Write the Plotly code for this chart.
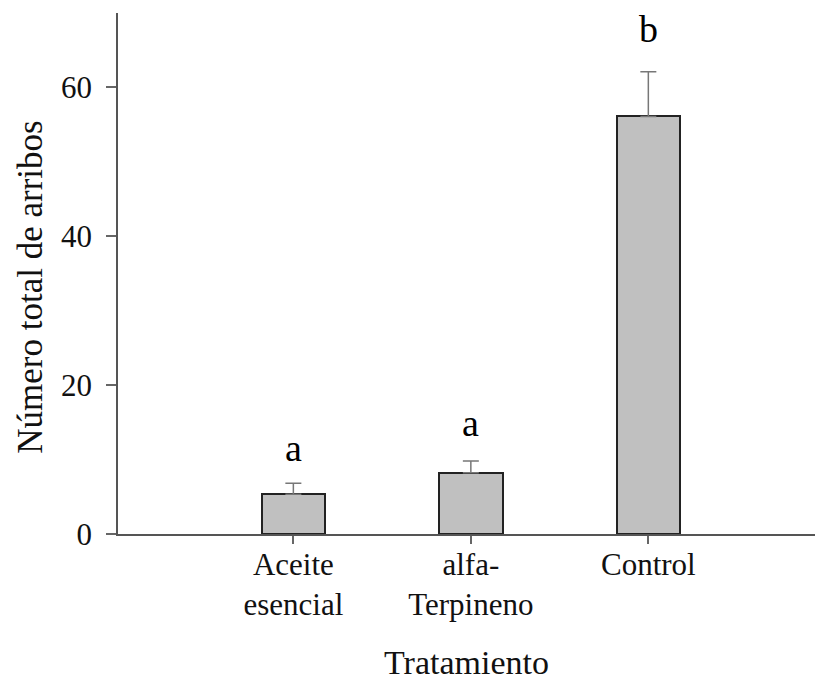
import plotly.graph_objects as go

# Tratamientos y su número total de arribos (media ± error estándar)
categorias = ["Aceite<br>esencial", "alfa-<br>Terpineno", "Control"]
posiciones = [1, 2, 3]
medias = [5.33, 8.23, 56.1]
errores = [1.5, 1.57, 6.0]
letras = ["a", "a", "b"]
altura_letras = [11.5, 14.9, 67.9]

fuente = "Liberation Serif, Times New Roman, serif"

fig = go.Figure()
fig.add_trace(go.Bar(
    x=posiciones,
    y=medias,
    width=0.358,
    marker=dict(color="#c0c0c0", line=dict(color="#222222", width=2)),
    error_y=dict(type="data", array=errores, arrayminus=[0, 0, 0],
                 symmetric=False, color="#777777", thickness=1.5, width=8),
    showlegend=False,
))

# Letras de significancia sobre cada barra
for xp, yl, txt in zip(posiciones, altura_letras, letras):
    fig.add_annotation(x=xp, y=yl, text=txt, showarrow=False,
                       font=dict(family=fuente, size=38, color="#000000"),
                       xanchor="center", yanchor="middle")

# Título del eje Y
fig.add_annotation(xref="paper", yref="paper", x=-0.126, y=0.473,
                   text="Número total de arribos", textangle=-90,
                   showarrow=False, xanchor="center", yanchor="middle",
                   font=dict(family=fuente, size=35, color="#111111"))

fig.update_layout(
    width=815, height=682,
    margin=dict(l=118, r=0, t=13, b=148),
    plot_bgcolor="white", paper_bgcolor="white",
    font=dict(family=fuente, size=31, color="#111111"),
    bargap=0,
)
fig.update_xaxes(
    range=[0.012, 3.939],
    tickmode="array", tickvals=posiciones, ticktext=categorias,
    ticks="outside", ticklen=8, tickcolor="#666666", tickwidth=1.5,
    ticklabelstandoff=-6,
    showline=True, linecolor="#555555", linewidth=1.5,
    showgrid=False, zeroline=False,
    title=dict(text="Tratamiento", font=dict(size=34), standoff=29),
)
fig.update_yaxes(
    range=[0, 70],
    tickvals=[0, 20, 40, 60],
    tickfont=dict(size=31),
    ticks="outside", ticklen=10, tickcolor="#666666", tickwidth=1.5,
    ticklabelstandoff=8,
    showline=True, linecolor="#555555", linewidth=1.5,
    showgrid=False, zeroline=False,
)

fig.write_html("out.html")
